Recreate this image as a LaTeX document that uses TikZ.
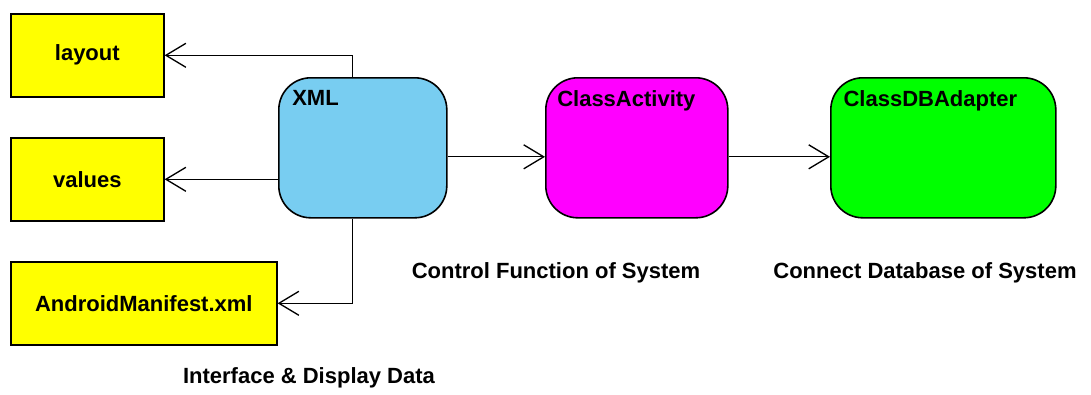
\documentclass[tikz,border=0pt]{standalone}
\usepackage{fontspec}
\setmainfont{Liberation Sans}
\usetikzlibrary{arrows.meta, positioning}
\definecolor{colorRes}{HTML}{FFFF00}
\definecolor{colorXml}{HTML}{78CDF1}
\definecolor{colorAct}{HTML}{FF00FF}
\definecolor{colorDb}{HTML}{00FF00}

\begin{document}
\begin{tikzpicture}[x=0.75pt,y=-0.75pt,
        font=\fontsize{16.5}{18}\selectfont\bfseries,
        resbox/.style={draw=black,line width=1.2pt,fill=colorRes,anchor=north west,minimum height=62.25pt,inner sep=0pt},
        classbox/.style={draw=black,line width=1.2pt,rounded corners=24pt,anchor=north west,minimum height=105pt,inner sep=0pt},
        conn/.style={line width=1pt,-{Straight Barb[length=15pt,width=18pt,line width=1pt]}}]
        \useasboundingbox (0,0) rectangle (1091,394);
        % resources on the left
        \node (layout) [resbox,minimum width=114.75pt] at (10,13) {layout};
        \node (values) [resbox,minimum width=114.75pt] at (10,137) {values};
        \node (manifest) [resbox,minimum width=199.5pt] at (10,261) {AndroidManifest.xml};
        % classes
        \node (xml) [classbox,fill=colorXml,minimum width=126pt,
            label={[anchor=north west,inner sep=0pt,xshift=10.5pt,yshift=-10pt]north west:XML}] at (278,77) {};
        \node (act) [classbox,fill=colorAct,minimum width=136.5pt,
            label={[anchor=north west,inner sep=0pt,xshift=9pt,yshift=-10pt]north west:ClassActivity}] at (545,77) {};
        \node (db) [classbox,fill=colorDb,minimum width=168.75pt,
            label={[anchor=north west,inner sep=0pt,xshift=10pt,yshift=-10pt]north west:ClassDBAdapter}] at (830,77) {};
        \draw[conn] ([xshift=-7.5pt]xml.north) |- (layout.east);
        \draw[conn] (xml.west |- values.east) -- (values.east);
        \draw[conn] ([xshift=-7.5pt]xml.south) |- (manifest.east);
        \draw[conn] ([yshift=-6.75pt]xml.east) -- ([yshift=-6.75pt]act.west);
        \draw[conn] ([yshift=-6.75pt]act.east) -- ([yshift=-6.75pt]db.west);
        % captions
        \node (uitext) at (309,378) {Interface \& Display Data};
        \node (ctrltext) at (556,273) {Control Function of System};
        \node (dbtext) at (925,273) {Connect Database of System};
\end{tikzpicture}
\end{document}
